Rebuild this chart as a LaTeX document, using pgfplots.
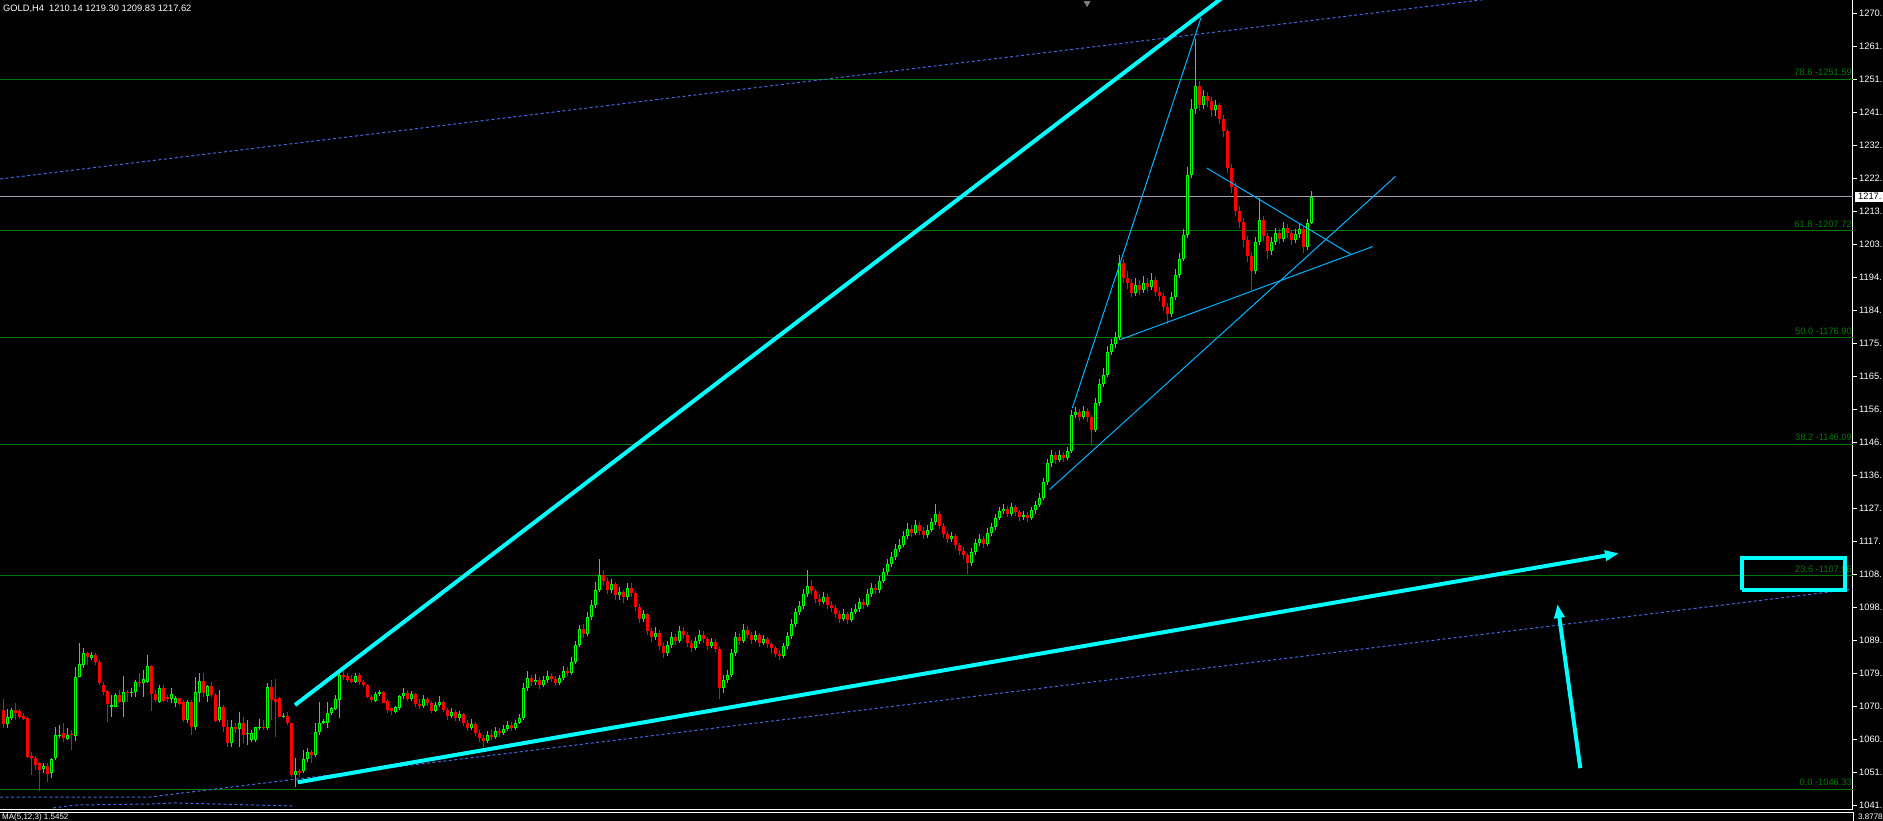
\documentclass[border=0pt]{standalone}
\usepackage{pgfplots}
\pgfplotsset{compat=1.18}
\usepackage{pgfplotstable}
\usepackage{fontspec}
\setmainfont{Liberation Sans}
\usetikzlibrary{arrows.meta}
\definecolor{upc}{RGB}{0,255,0}
\definecolor{dnc}{RGB}{255,0,0}
\definecolor{aqua}{RGB}{0,255,255}
\definecolor{thinblue}{RGB}{0,180,255}
\definecolor{dotblue}{RGB}{65,105,225}
\definecolor{fibgreen}{RGB}{0,120,0}
\definecolor{priceline}{RGB}{160,160,175}
\newcommand\fs{\fontsize{9.3pt}{11pt}\selectfont}
\newcommand\fsb{\fontsize{8pt}{9pt}\selectfont}

\pgfplotstableread{
i o h l c
1 1069.17 1072.25 1063.87 1065.03
2 1065.12 1069.36 1063.87 1067.05
3 1066.95 1069.65 1066.28 1069.17
4 1069.17 1071.10 1066.28 1068.40
5 1068.98 1069.36 1066.47 1067.24
6 1067.44 1068.21 1066.28 1066.57
7 1066.76 1067.24 1055.20 1055.68
8 1055.97 1057.12 1050.38 1055.20
9 1055.20 1055.87 1051.82 1053.27
10 1053.75 1054.23 1045.85 1051.82
11 1052.02 1053.75 1050.86 1052.98
12 1053.08 1053.75 1048.45 1050.67
13 1050.86 1055.20 1049.42 1054.91
14 1055.20 1064.35 1054.71 1061.94
15 1061.75 1064.83 1060.98 1061.94
16 1062.42 1065.32 1060.02 1060.98
17 1060.79 1063.87 1060.50 1061.94
18 1062.14 1063.39 1057.61 1061.94
19 1061.75 1081.70 1060.30 1078.81
20 1078.81 1088.44 1078.61 1082.37
21 1082.18 1087.00 1081.22 1085.55
22 1085.55 1086.04 1082.18 1084.40
23 1084.30 1086.04 1083.63 1085.07
24 1085.07 1085.55 1082.18 1083.15
25 1083.15 1083.63 1076.40 1076.88
26 1076.40 1077.36 1073.51 1074.47
27 1074.66 1074.95 1065.80 1070.81
28 1070.13 1073.51 1067.24 1070.62
29 1070.13 1073.99 1069.94 1073.51
30 1073.51 1074.95 1071.10 1071.58
31 1071.58 1079.00 1067.24 1074.47
32 1074.47 1074.95 1071.58 1073.99
33 1073.99 1075.43 1073.03 1074.47
34 1074.47 1077.84 1073.03 1077.36
35 1077.36 1079.77 1075.92 1076.88
36 1077.07 1080.74 1073.03 1078.13
37 1077.36 1085.07 1076.88 1081.89
38 1081.89 1082.18 1068.98 1073.80
39 1073.80 1074.95 1071.58 1072.06
40 1071.58 1076.40 1071.10 1075.43
41 1075.43 1076.40 1071.58 1071.77
42 1073.03 1073.51 1071.58 1072.35
43 1072.25 1075.43 1071.10 1073.80
44 1071.10 1073.22 1070.13 1072.54
45 1072.54 1072.74 1070.62 1070.91
46 1071.58 1072.06 1065.80 1066.28
47 1066.28 1072.06 1065.32 1071.58
48 1071.58 1072.06 1061.94 1064.16
49 1064.16 1078.81 1063.39 1074.47
50 1074.18 1079.77 1071.58 1077.55
51 1077.55 1079.77 1073.03 1074.18
52 1073.22 1076.40 1071.58 1076.11
53 1076.11 1077.36 1073.03 1073.41
54 1073.41 1073.99 1065.80 1066.09
55 1066.28 1074.95 1065.80 1069.94
56 1069.94 1070.62 1062.91 1064.16
57 1064.16 1066.28 1058.57 1059.73
58 1059.53 1066.28 1058.57 1064.16
59 1064.35 1065.32 1062.42 1063.68
60 1063.68 1068.69 1058.57 1065.32
61 1065.32 1067.24 1059.53 1061.94
62 1062.14 1066.28 1059.05 1062.42
63 1060.50 1063.39 1060.02 1062.42
64 1060.50 1064.35 1060.02 1064.16
65 1063.97 1066.47 1063.39 1064.16
66 1064.16 1066.28 1063.39 1063.87
67 1063.87 1077.07 1063.39 1075.72
68 1075.72 1077.84 1066.28 1072.06
69 1072.25 1078.04 1061.46 1071.58
70 1072.54 1072.83 1067.05 1067.24
71 1067.05 1068.21 1066.76 1067.44
72 1067.44 1068.69 1064.83 1065.32
73 1065.32 1065.51 1049.90 1050.38
74 1050.38 1055.20 1046.90 1051.63
75 1051.63 1052.02 1049.90 1051.05
76 1051.63 1057.61 1050.86 1054.91
77 1054.91 1058.09 1054.23 1057.12
78 1056.93 1057.61 1053.75 1056.16
79 1056.16 1065.32 1055.68 1062.91
80 1062.91 1071.58 1061.94 1065.32
81 1065.32 1066.47 1065.12 1065.99
82 1065.32 1071.58 1063.87 1068.40
83 1068.40 1070.13 1067.72 1069.65
84 1069.36 1073.51 1069.17 1072.25
85 1072.06 1080.25 1066.76 1079.29
86 1079.29 1080.74 1077.84 1078.61
87 1079.10 1079.77 1077.36 1077.84
88 1078.13 1079.29 1076.88 1077.36
89 1077.36 1079.77 1076.88 1079.10
90 1079.29 1079.77 1076.40 1077.17
91 1077.36 1077.84 1075.92 1076.40
92 1076.40 1076.69 1072.54 1072.83
93 1073.03 1073.51 1071.58 1072.06
94 1071.87 1074.47 1071.58 1073.80
95 1073.80 1074.95 1073.22 1074.47
96 1074.47 1074.66 1071.10 1071.29
97 1071.87 1072.25 1068.21 1069.17
98 1069.65 1069.94 1067.72 1068.98
99 1068.69 1070.33 1068.21 1069.94
100 1069.65 1073.51 1069.17 1073.22
101 1073.22 1075.6 1072.4 1074.0
102 1074.0 1075.0 1071.8 1072.5
103 1072.5 1074.6 1071.9 1073.8
104 1073.8 1074.2 1070.1 1071.0
105 1071.0 1072.3 1069.5 1070.2
106 1070.2 1073.5 1069.8 1072.4
107 1072.4 1073.0 1070.4 1071.1
108 1071.1 1071.8 1068.2 1069.0
109 1069.0 1071.6 1068.6 1070.5
110 1070.5 1073.2 1070.0 1071.6
111 1071.6 1072.1 1068.5 1069.2
112 1069.2 1069.8 1066.4 1067.5
113 1067.5 1069.9 1067.0 1068.6
114 1068.6 1069.3 1065.9 1066.8
115 1066.8 1068.8 1066.1 1067.9
116 1067.9 1068.4 1064.6 1065.4
117 1065.4 1066.2 1063.1 1064.0
118 1064.0 1066.5 1063.4 1065.2
119 1065.2 1065.8 1061.6 1062.5
120 1062.5 1063.4 1059.8 1061.0
121 1061.0 1062.0 1058.6 1060.2
122 1060.2 1063.1 1059.6 1062.0
123 1062.0 1063.5 1060.4 1061.3
124 1061.3 1064.2 1060.9 1063.0
125 1063.0 1064.0 1061.5 1062.4
126 1062.4 1064.8 1062.0 1063.6
127 1063.6 1066.0 1063.0 1064.8
128 1064.8 1065.6 1063.1 1063.9
129 1063.9 1066.4 1063.5 1065.5
130 1065.5 1068.0 1065.0 1066.8
131 1066.8 1077.0 1066.2 1075.5
132 1075.5 1080.5 1074.8 1078.4
133 1078.4 1079.3 1076.0 1077.2
134 1077.2 1079.6 1076.4 1078.0
135 1078.0 1078.8 1075.2 1076.5
136 1076.5 1079.0 1075.9 1077.8
137 1077.8 1080.4 1077.0 1079.0
138 1079.0 1079.8 1077.3 1078.2
139 1078.2 1078.9 1076.0 1076.9
140 1076.9 1079.4 1076.3 1078.5
141 1078.5 1081.8 1077.9 1080.6
142 1080.6 1081.5 1078.9 1079.8
143 1079.8 1084.4 1079.2 1083.2
144 1083.2 1089.1 1082.5 1088.0
145 1088.0 1093.8 1087.4 1092.5
146 1092.5 1094.0 1090.1 1091.2
147 1091.2 1097.4 1090.6 1096.0
148 1096.0 1101.0 1095.2 1099.5
149 1099.5 1106.2 1098.6 1104.0
150 1104.0 1112.8 1103.2 1108.2
151 1108.2 1109.6 1105.0 1106.5
152 1106.5 1107.4 1102.8 1104.0
153 1104.0 1107.0 1103.1 1105.6
154 1105.6 1106.2 1101.0 1102.3
155 1102.3 1104.8 1100.9 1103.4
156 1103.4 1104.0 1100.2 1101.8
157 1101.8 1106.0 1101.0 1104.5
158 1104.5 1105.8 1101.9 1103.0
159 1103.0 1103.6 1097.8 1099.0
160 1099.0 1099.8 1094.2 1095.4
161 1095.4 1098.2 1094.6 1096.8
162 1096.8 1097.3 1090.8 1092.0
163 1092.0 1093.0 1088.9 1090.2
164 1090.2 1093.1 1089.4 1091.5
165 1091.5 1092.2 1086.5 1087.8
166 1087.8 1088.5 1084.3 1085.6
167 1085.6 1089.0 1084.9 1087.9
168 1087.9 1091.6 1087.1 1090.4
169 1090.4 1091.2 1088.0 1089.1
170 1089.1 1093.6 1088.5 1092.0
171 1092.0 1093.2 1089.8 1091.0
172 1091.0 1091.6 1087.4 1088.5
173 1088.5 1089.4 1085.9 1087.2
174 1087.2 1090.3 1086.4 1089.0
175 1089.0 1092.4 1088.3 1090.8
176 1090.8 1091.9 1088.6 1089.6
177 1089.6 1090.2 1086.6 1087.8
178 1087.8 1090.0 1087.0 1088.9
179 1088.9 1089.6 1085.9 1086.8
180 1086.8 1087.4 1072.5 1075.5
181 1075.5 1079.2 1074.1 1078.0
182 1078.0 1080.8 1077.0 1079.2
183 1079.2 1086.8 1078.6 1085.6
184 1085.6 1091.8 1084.9 1090.4
185 1090.4 1091.5 1088.0 1089.2
186 1089.2 1094.0 1088.6 1092.4
187 1092.4 1093.4 1090.0 1091.0
188 1091.0 1091.8 1088.2 1089.5
189 1089.5 1092.0 1088.8 1090.8
190 1090.8 1091.4 1087.5 1088.6
191 1088.6 1090.8 1087.9 1089.7
192 1089.7 1090.3 1087.0 1088.2
193 1088.2 1088.9 1085.8 1087.0
194 1087.0 1087.6 1084.6 1085.5
195 1085.5 1086.4 1083.6 1084.8
196 1084.8 1088.6 1084.1 1087.6
197 1087.6 1091.7 1086.9 1090.5
198 1090.5 1095.4 1089.8 1094.0
199 1094.0 1098.6 1093.2 1097.5
200 1097.5 1100.8 1096.6 1099.3
201 1099.3 1104.2 1098.5 1102.8
202 1102.8 1109.6 1101.9 1105.0
203 1105.0 1106.8 1102.5 1103.6
204 1103.6 1104.3 1100.0 1101.2
205 1101.2 1102.6 1099.2 1100.4
206 1100.4 1103.4 1099.7 1102.0
207 1102.0 1102.8 1098.4 1099.5
208 1099.5 1100.6 1097.6 1098.8
209 1098.8 1099.5 1095.9 1097.0
210 1097.0 1097.9 1094.4 1095.6
211 1095.6 1098.3 1094.9 1096.9
212 1096.9 1097.5 1094.1 1095.2
213 1095.2 1098.8 1094.6 1097.6
214 1097.6 1099.9 1096.8 1098.3
215 1098.3 1101.6 1097.5 1100.5
216 1100.5 1101.4 1098.5 1099.6
217 1099.6 1104.1 1098.9 1102.8
218 1102.8 1105.8 1101.9 1104.5
219 1104.5 1105.6 1102.6 1103.8
220 1103.8 1107.9 1103.0 1106.6
221 1106.6 1110.2 1105.8 1109.0
222 1109.0 1112.8 1108.2 1111.4
223 1111.4 1115.0 1110.6 1113.5
224 1113.5 1117.2 1112.7 1115.8
225 1115.8 1118.6 1114.9 1117.0
226 1117.0 1121.0 1116.2 1119.4
227 1119.4 1123.2 1118.5 1121.6
228 1121.6 1122.6 1119.2 1120.5
229 1120.5 1124.0 1119.8 1122.8
230 1122.8 1123.5 1119.9 1121.0
231 1121.0 1122.0 1118.6 1119.8
232 1119.8 1122.6 1119.0 1121.3
233 1121.3 1124.8 1120.6 1123.5
234 1123.5 1128.7 1122.8 1126.0
235 1126.0 1126.8 1121.5 1122.4
236 1122.4 1123.2 1118.9 1120.0
237 1120.0 1120.9 1117.4 1118.6
238 1118.6 1120.8 1117.8 1119.5
239 1119.5 1120.0 1115.7 1116.8
240 1116.8 1117.6 1114.0 1115.2
241 1115.2 1116.3 1112.8 1113.9
242 1113.9 1114.6 1108.6 1111.6
243 1111.6 1116.0 1110.9 1114.8
244 1114.8 1118.7 1114.0 1117.5
245 1117.5 1120.0 1116.6 1118.6
246 1118.6 1119.4 1116.1 1117.2
247 1117.2 1121.8 1116.6 1120.5
248 1120.5 1123.4 1119.6 1122.0
249 1122.0 1126.0 1121.3 1124.8
250 1124.8 1127.8 1124.0 1126.6
251 1126.6 1128.9 1125.8 1127.4
252 1127.4 1128.2 1125.0 1126.0
253 1126.0 1129.0 1125.2 1127.8
254 1127.8 1128.6 1125.3 1126.4
255 1126.4 1127.0 1123.8 1125.0
256 1125.0 1126.8 1124.0 1125.6
257 1125.6 1126.3 1123.5 1124.8
258 1124.8 1128.0 1124.2 1126.9
259 1126.9 1129.6 1126.0 1128.5
260 1128.5 1131.8 1127.8 1130.6
261 1130.6 1136.2 1130.0 1135.0
262 1135.0 1141.8 1134.2 1140.5
263 1140.5 1144.5 1139.6 1142.8
264 1142.8 1143.9 1140.4 1141.6
265 1141.6 1144.4 1140.8 1143.0
266 1143.0 1143.8 1141.0 1142.2
267 1142.2 1145.3 1141.4 1144.0
268 1144.0 1156.0 1143.4 1154.5
269 1154.5 1156.8 1153.6 1155.3
270 1155.3 1156.2 1152.8 1154.0
271 1154.0 1157.0 1153.2 1155.6
272 1155.6 1156.4 1152.6 1153.8
273 1153.8 1154.4 1145.4 1150.2
274 1150.2 1159.4 1149.5 1158.0
275 1158.0 1165.0 1157.2 1163.5
276 1163.5 1168.0 1162.6 1166.2
277 1166.2 1174.4 1165.5 1172.8
278 1172.8 1176.6 1171.8 1174.9
279 1174.9 1178.5 1173.9 1177.0
280 1177.0 1200.9 1176.2 1198.5
281 1198.5 1199.6 1192.8 1194.0
282 1194.0 1196.2 1190.9 1192.6
283 1192.6 1193.8 1188.6 1189.8
284 1189.8 1194.0 1188.8 1192.0
285 1192.0 1193.6 1189.2 1190.6
286 1190.6 1194.8 1189.8 1192.8
287 1192.8 1194.2 1190.1 1191.5
288 1191.5 1195.6 1190.6 1193.4
289 1193.4 1194.3 1189.0 1190.2
290 1190.2 1191.6 1187.4 1189.0
291 1189.0 1189.8 1184.5 1185.8
292 1185.8 1186.8 1180.8 1183.6
293 1183.6 1190.0 1182.9 1188.5
294 1188.5 1196.6 1187.8 1195.0
295 1195.0 1201.2 1194.2 1199.6
296 1199.6 1208.4 1198.9 1206.5
297 1206.5 1226.2 1205.6 1224.0
298 1224.0 1246.0 1222.9 1243.0
299 1243.0 1263.3 1241.5 1249.5
300 1249.5 1251.0 1242.3 1244.0
301 1244.0 1248.6 1242.9 1246.8
302 1246.8 1248.0 1243.6 1245.2
303 1245.2 1246.4 1240.8 1242.6
304 1242.6 1245.6 1241.0 1244.1
305 1244.1 1244.8 1238.6 1240.0
306 1240.0 1241.2 1235.0 1236.5
307 1236.5 1237.2 1224.6 1226.0
308 1226.0 1227.0 1218.8 1220.5
309 1220.5 1221.8 1212.0 1213.6
310 1213.6 1214.8 1208.6 1210.2
311 1210.2 1211.4 1203.2 1205.0
312 1205.0 1206.2 1198.6 1200.4
313 1200.4 1201.5 1190.5 1196.0
314 1196.0 1206.0 1195.2 1204.6
315 1204.6 1217.2 1203.8 1211.0
316 1211.0 1212.0 1204.8 1206.2
317 1206.2 1207.0 1199.6 1201.8
318 1201.8 1206.0 1200.8 1204.5
319 1204.5 1208.6 1203.6 1207.0
320 1207.0 1208.2 1204.0 1205.4
321 1205.4 1210.4 1204.6 1208.6
322 1208.6 1209.8 1205.8 1207.2
323 1207.2 1208.0 1203.6 1205.0
324 1205.0 1208.4 1204.2 1206.9
325 1206.9 1209.6 1205.8 1208.2
326 1208.2 1209.0 1201.4 1203.0
327 1203.0 1211.2 1202.2 1210.1
328 1210.14 1219.30 1209.83 1217.62
}\candles

\begin{document}
\begin{tikzpicture}
\fill[black] (0,0) rectangle (1883pt,-821pt);
\path[use as bounding box] (0,0) rectangle (1883pt,-821pt);
\clip (0,0) rectangle (1883pt,-821pt);
\begin{axis}[
  at={(0pt,0pt)}, anchor=north west,
  width=1853pt, height=809pt, scale only axis,
  xmin=0.125, xmax=463.375,
  ymin=1040.55, ymax=1274.51,
  axis x line*=bottom, axis y line*=right,
  axis line style={white, line width=1pt},
  xtick=\empty,
  ytick={1041.58,1051.12,1060.66,1070.20,1079.74,1089.28,1098.82,1108.36,1117.90,1127.44,1136.98,1146.52,1156.06,1165.60,1175.14,1184.68,1194.22,1203.76,1213.30,1222.84,1232.38,1241.92,1251.46,1261.00,1270.54},
  yticklabels={1041.,1051.,1060.,1070.,1079.,1089.,1098.,1108.,1117.,1127.,1136.,1146.,1156.,1165.,1175.,1184.,1194.,1203.,1213.,1222.,1232.,1241.,1251.,1261.,1270.},
  tick align=outside, major tick length=4pt,
  tick style={white, line width=1pt},
  yticklabel style={font=\fs, text=white, inner sep=0pt, xshift=2pt},
  clip=true,
]
% fibonacci levels
\addplot[fibgreen, line width=1pt] coordinates {(0.125,1251.59) (463.375,1251.59)};
\addplot[fibgreen, line width=1pt] coordinates {(0.125,1207.72) (463.375,1207.72)};
\addplot[fibgreen, line width=1pt] coordinates {(0.125,1176.90) (463.375,1176.90)};
\addplot[fibgreen, line width=1pt] coordinates {(0.125,1146.09) (463.375,1146.09)};
\addplot[fibgreen, line width=1pt] coordinates {(0.125,1107.96) (463.375,1107.96)};
\addplot[fibgreen, line width=1pt] coordinates {(0.125,1046.33) (463.375,1046.33)};
\node[anchor=base east, text=fibgreen, font=\fs, inner sep=0pt, yshift=3.3pt] at (axis cs:463.125,1251.59) {78.6 -1251.59};
\node[anchor=base east, text=fibgreen, font=\fs, inner sep=0pt, yshift=3.3pt] at (axis cs:463.125,1207.72) {61.8 -1207.72};
\node[anchor=base east, text=fibgreen, font=\fs, inner sep=0pt, yshift=3.3pt] at (axis cs:463.125,1176.90) {50.0 -1176.90};
\node[anchor=base east, text=fibgreen, font=\fs, inner sep=0pt, yshift=3.3pt] at (axis cs:463.125,1146.09) {38.2 -1146.09};
\node[anchor=base east, text=fibgreen, font=\fs, inner sep=0pt, yshift=3.3pt] at (axis cs:463.125,1107.96) {23.6 -1107.96};
\node[anchor=base east, text=fibgreen, font=\fs, inner sep=0pt, yshift=3.3pt] at (axis cs:463.125,1046.33) {0.0 -1046.33};
% current price line
\addplot[priceline, line width=1pt] coordinates {(0.125,1217.62) (463.375,1217.62)};
% dotted channel lines
\addplot[dotblue, line width=1pt, dash pattern=on 3pt off 2.5pt] coordinates {(0.125,1222.74) (380,1275.87)};
\addplot[dotblue, line width=1pt, dash pattern=on 3pt off 2.5pt] coordinates {(0.125,1044.02) (37.6,1044.02) (463.375,1104.14)};
\addplot[dotblue, line width=1pt, dash pattern=on 3pt off 2.5pt] coordinates {(13.4,1040.84) (18.9,1041.7) (37.6,1042.0) (43.9,1042.3) (73.9,1041.4)};
% candles: wicks
\addplot[draw=none, mark=none, restrict expr to domain={\thisrow{c}-\thisrow{o}}{0:1000},
  error bars/.cd, y dir=plus, y explicit, error mark=none,
  error bar style={draw=upc, line width=1pt}]
  table[x=i, y=l, y error plus expr={\thisrow{h}-\thisrow{l}}] {\candles};
\addplot[draw=none, mark=none, restrict expr to domain={\thisrow{o}-\thisrow{c}}{0.0001:1000},
  error bars/.cd, y dir=plus, y explicit, error mark=none,
  error bar style={draw=dnc, line width=1pt}]
  table[x=i, y=l, y error plus expr={\thisrow{h}-\thisrow{l}}] {\candles};
% bodies
\addplot[draw=none, mark=none, restrict expr to domain={\thisrow{c}-\thisrow{o}}{0:1000},
  error bars/.cd, y dir=plus, y explicit, error mark=none,
  error bar style={draw=upc, line width=3pt}]
  table[x=i, y=o, y error plus expr={\thisrow{c}-\thisrow{o}}] {\candles};
\addplot[draw=none, mark=none, restrict expr to domain={\thisrow{c}-\thisrow{o}}{0.7:1000},
  error bars/.cd, y dir=plus, y explicit, error mark=none,
  error bar style={draw=black, line width=1pt}]
  table[x=i, y expr={\thisrow{o}+0.2892}, y error plus expr={\thisrow{c}-\thisrow{o}-0.5784}] {\candles};
\addplot[draw=none, mark=none, restrict expr to domain={\thisrow{o}-\thisrow{c}}{0.0001:1000},
  error bars/.cd, y dir=plus, y explicit, error mark=none,
  error bar style={draw=dnc, line width=3pt}]
  table[x=i, y=c, y error plus expr={\thisrow{o}-\thisrow{c}}] {\candles};
% thin pattern lines
\addplot[thinblue, line width=1pt] coordinates {(268.2,1156.5) (300.35,1269.3)};
\addplot[thinblue, line width=1pt] coordinates {(262.5,1132.9) (349.0,1223.5)};
\addplot[thinblue, line width=1pt] coordinates {(280.2,1176.3) (343.3,1203.2)};
\addplot[thinblue, line width=1pt] coordinates {(301.85,1225.9) (337.9,1200.9)};
% thick cyan lines
\addplot[aqua, line width=4pt] coordinates {(73.875,1070.62) (320,1287.78)};
\addplot[aqua, line width=4pt, -{Triangle[length=14pt,width=10pt]}] coordinates {(74.55,1048.27) (404.875,1114.5)};
\addplot[aqua, line width=4pt, -{Triangle[length=14pt,width=10pt]}] coordinates {(395.2,1052.35) (389.5,1099.83)};
\addplot[aqua, line width=4pt, line join=miter] coordinates {(435.6,1103.8) (461.45,1103.8) (461.45,1113.14) (435.6,1113.14) (435.6,1103.8)};
% top marker
\addplot[only marks, mark=triangle*, mark size=3.5pt, mark options={rotate=180, fill=gray, draw=gray}] coordinates {(271.9,1273.6)};
\coordinate (cp) at (axis cs:463.375,1217.62);
\end{axis}
\node[fill=white, text=black, anchor=west, inner xsep=3pt, inner ysep=0pt, minimum height=10pt, font=\fs] at ([xshift=2pt]cp) {1217.};
\node[anchor=base west, text=white, font=\fs, inner sep=0pt] at (3pt,-12pt) {GOLD,H4\ \ 1210.14 1219.30 1209.83 1217.62};
\draw[white, line width=1pt] (0,-812.5pt) -- (1853pt,-812.5pt) -- (1853pt,-821pt);
\node[anchor=base west, text=white, font=\fsb, inner sep=0pt] at (2pt,-819.5pt) {MA(5,12,3) 1.5452};
\node[anchor=base west, text=white, font=\fsb, inner sep=0pt] at (1858pt,-819.5pt) {3.8778};
\end{tikzpicture}
\end{document}
